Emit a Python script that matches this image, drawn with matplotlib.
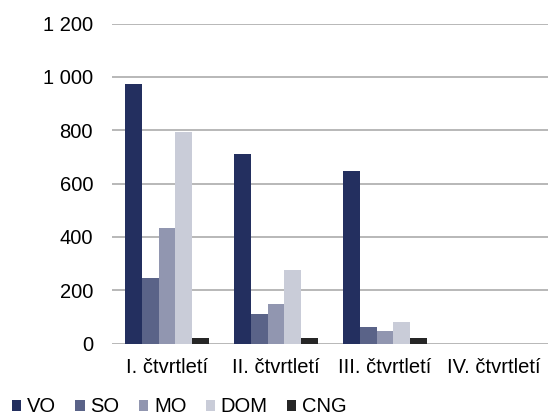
import matplotlib
matplotlib.use("Agg")
import matplotlib.pyplot as plt
import numpy as np

plt.rcParams['font.family'] = ['Liberation Sans', 'DejaVu Sans']

# data
categories = ['I. čtvrtletí', 'II. čtvrtletí', 'III. čtvrtletí', 'IV. čtvrtletí']
series = ['VO', 'SO', 'MO', 'DOM', 'CNG']
vo = [972, 712, 649, 0]
so = [245, 111, 64, 0]
mo = [433, 148, 46, 0]
dom = [792, 277, 82, 0]
cng = [21, 21, 21, 0]
colors = ['#232f5f', '#5a6388', '#9196b0', '#c9ccd8', '#262626']
yticks = [0, 200, 400, 600, 800, 1000, 1200]

values = [vo, so, mo, dom, cng]

fig = plt.figure(figsize=(5.49, 4.18), dpi=100)
ax = fig.add_axes([0.2049, 0.1778, 0.7941, 0.7657])

x = np.arange(len(categories))
w = 0.154
for i, (name, vals) in enumerate(zip(series, values)):
    ax.bar(x + (i - 2) * w, vals, width=w, color=colors[i], label=name, zorder=3)

ax.set_xlim(-0.5, 3.5)
ax.set_ylim(0, 1200)
ax.set_yticks(yticks)
ax.set_yticklabels([f'{v:,}'.replace(',', ' ') for v in yticks])
ax.set_xticks(x)
ax.set_xticklabels(categories)
ax.tick_params(axis='both', length=0, labelsize=14.5, colors='black')
ax.tick_params(axis='y', pad=14)
ax.tick_params(axis='x', pad=10)
ax.yaxis.grid(True, color='#ababab', linewidth=1.2, zorder=0)
for s in ax.spines.values():
    s.set_visible(False)

fig.legend(loc='lower left', bbox_to_anchor=(0.0, -0.025), ncol=5, frameon=False,
           fontsize=14.5, handlelength=0.45, handleheight=0.45, handletextpad=0.3,
           columnspacing=0.95, borderaxespad=0.2)

plt.savefig('out.png', dpi=100)
